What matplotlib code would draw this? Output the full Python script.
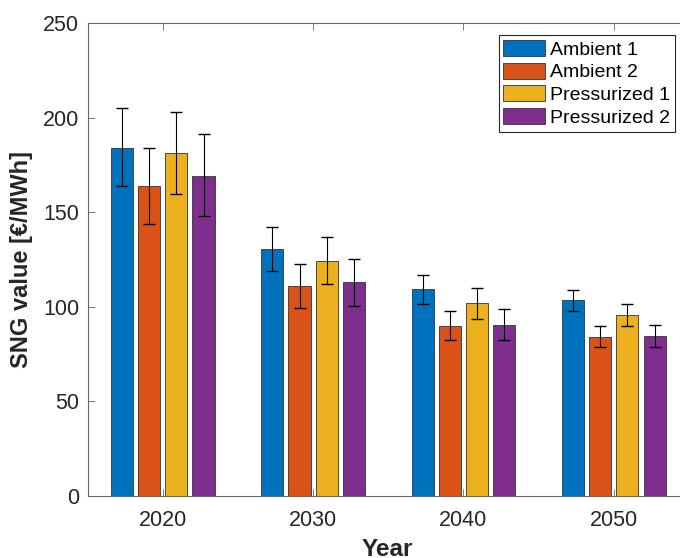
import numpy as np
import matplotlib
matplotlib.use('Agg')
import matplotlib.pyplot as plt

plt.rcParams['font.family'] = ['Liberation Sans', 'DejaVu Sans']

years = ['2020', '2030', '2040', '2050']
series = ['Ambient 1', 'Ambient 2', 'Pressurized 1', 'Pressurized 2']
colors = ['#0072BD', '#D95319', '#EDB120', '#7E2F8E']

# bar heights per series (one value per year)
values = [
    [184.3, 130.7, 109.5, 103.7],
    [164.0, 110.9, 89.9, 84.2],
    [181.5, 124.5, 102.1, 95.9],
    [169.5, 113.2, 90.6, 84.6],
]
# error bar ends: lower and upper
lower = [
    [163.8, 119.0, 101.7, 98.1],
    [143.7, 99.4, 82.3, 78.9],
    [159.6, 112.3, 93.8, 90.0],
    [147.9, 100.6, 82.5, 78.8],
]
upper = [
    [205.0, 142.4, 117.0, 109.1],
    [184.3, 122.7, 97.6, 89.7],
    [203.0, 137.0, 110.2, 101.7],
    [191.4, 125.4, 98.9, 90.2],
]

W, H = 680, 558
fig = plt.figure(figsize=(W / 100, H / 100), dpi=100)
ax = fig.add_axes([87.6 / W, 62 / H, (689 - 87.6) / W, (496 - 23.3) / H])

x = np.arange(1, len(years) + 1)
offsets = [-0.271, -0.0905, 0.0905, 0.271]
bw = 0.147
for i in range(len(series)):
    v = np.array(values[i])
    err = [v - np.array(lower[i]), np.array(upper[i]) - v]
    ax.bar(x + offsets[i], v, bw, color=colors[i], edgecolor='#333333',
           linewidth=0.6, label=series[i], zorder=2)
    ax.errorbar(x + offsets[i], v, yerr=err, fmt='none', ecolor='black',
                elinewidth=0.8, capsize=4, capthick=1.0, zorder=3)

ax.set_xlim(0.5, 4.5)
ax.set_ylim(0, 250)
ax.set_xticks(x)
ax.set_xticklabels(years)
ax.set_yticks([0, 50, 100, 150, 200, 250])

for s in ax.spines.values():
    s.set_color('#666666')
    s.set_linewidth(0.8)
ax.tick_params(direction='in', length=5, width=0.6, colors='#666666',
               labelcolor='#262626', labelsize=15.5, top=True, right=True)
ax.tick_params(axis='y', pad=6)
ax.tick_params(axis='x', pad=10)

ax.set_xlabel('Year', fontsize=17.5, fontweight='bold', color='#262626')
ax.set_ylabel('SNG value [€/MWh]', fontsize=17, fontweight='bold', color='#262626')
ax.xaxis.set_label_coords(0.4987, -0.0895)
ax.yaxis.set_label_coords(-0.091, 0.5)

leg = ax.legend(loc='upper right', bbox_to_anchor=(675 / W, 1 - 35 / H),
                bbox_transform=fig.transFigure, fontsize=14, fancybox=False,
                framealpha=1, edgecolor='#262626', handlelength=2.15,
                handleheight=0.9, labelspacing=0.2, handletextpad=0.25,
                borderpad=0.25, borderaxespad=0)
leg.get_frame().set_linewidth(0.8)

fig.savefig('out.png', dpi=100)
